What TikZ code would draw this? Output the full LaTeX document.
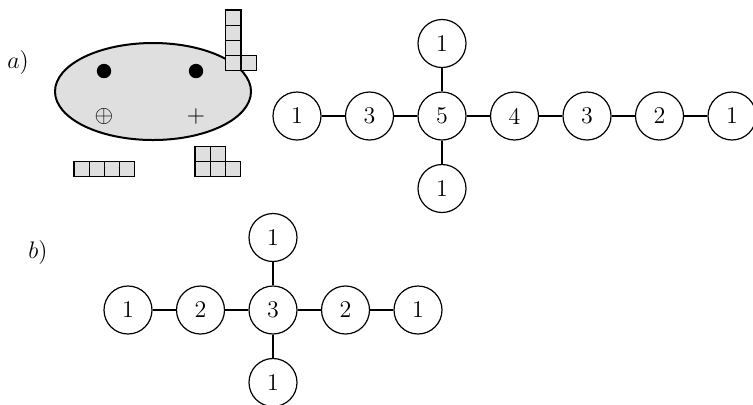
\documentclass[tikz,border=0pt]{standalone}
\usepackage{amsmath,amsfonts}
\usetikzlibrary{positioning}

\tikzset{
  vert/.style={circle, draw, line width=0.6pt, minimum size=24pt, inner sep=0pt},
  cell/.style={draw, line width=0.6pt, fill=gray!25},
}

\begin{document}
\begin{tikzpicture}[x=0.5pt,y=-0.5pt,node distance=36.25pt,on grid,font=\large]
   \useasboundingbox (0,0) rectangle (753,404);

   % a) the blob with its pieces
   \node (la) at (18,62) {$a)$};
   \draw[line width=1pt, fill=gray!25] (153,91.5) ellipse [x radius=49pt, y radius=24.25pt];
   \fill (104,71) circle [radius=3.6pt];
   \fill (196,71) circle [radius=3.6pt];
   \node (op) at (104,116) {$\oplus$};
   \node (pl) at (196,116) {$+$};
   \foreach \y in {10,25.2,40.4,55.6}
      \draw[cell] (225.7,\y) rectangle ++(15.2,15.2);
   \draw[cell] (240.9,55.6) rectangle ++(15.2,15.2);
   \foreach \x in {74,89.2,104.4,119.6}
      \draw[cell] (\x,161.3) rectangle ++(15.2,15.2);
   \foreach \x in {195,210.2,225.4}
      \draw[cell] (\x,161.3) rectangle ++(15.2,15.2);
   \foreach \x in {195,210.2}
      \draw[cell] (\x,146.1) rectangle ++(15.2,15.2);

   % a) the graph
   \node[vert] (a1) at (297,116) {1};
   \node[vert] (a3) [right=of a1] {3};
   \node[vert] (a5) [right=of a3] {5};
   \node[vert] (a4) [right=of a5] {4};
   \node[vert] (a3r) [right=of a4] {3};
   \node[vert] (a2) [right=of a3r] {2};
   \node[vert] (a1r) [right=of a2] {1};
   \node[vert] (a1t) [above=of a5] {1};
   \node[vert] (a1b) [below=of a5] {1};
   \path[line width=0.6pt]
    (a1) edge (a3)
    (a3) edge (a5)
    (a5) edge (a4)
         edge (a1t)
         edge (a1b)
    (a4) edge (a3r)
    (a3r) edge (a2)
    (a2) edge (a1r);

   % b) the graph
   \node (lb) at (38,252) {$b)$};
   \node[vert] (b1) at (128,310) {1};
   \node[vert] (b2) [right=of b1] {2};
   \node[vert] (b3) [right=of b2] {3};
   \node[vert] (b2r) [right=of b3] {2};
   \node[vert] (b1r) [right=of b2r] {1};
   \node[vert] (b1t) [above=of b3] {1};
   \node[vert] (b1b) [below=of b3] {1};
   \path[line width=0.6pt]
    (b1) edge (b2)
    (b2) edge (b3)
    (b3) edge (b2r)
         edge (b1t)
         edge (b1b)
    (b2r) edge (b1r);
\end{tikzpicture}
\end{document}
